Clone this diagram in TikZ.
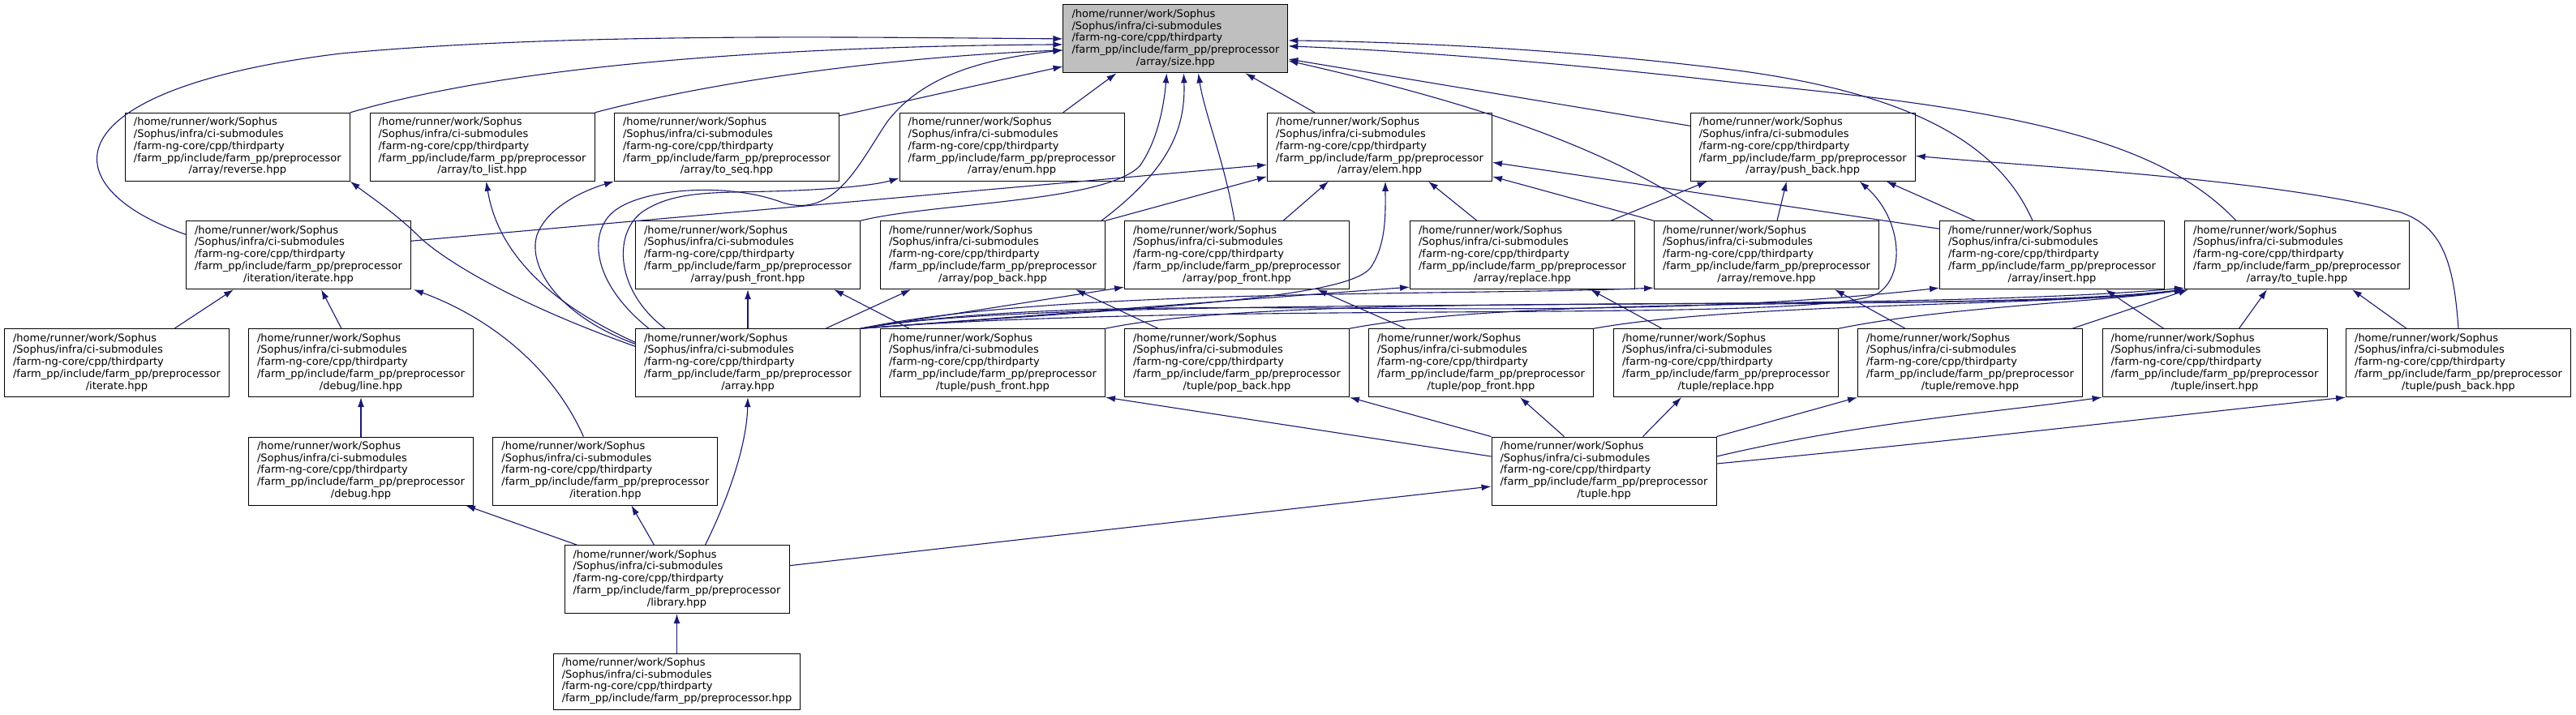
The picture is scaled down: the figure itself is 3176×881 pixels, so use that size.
\documentclass[tikz,border=0pt]{standalone}
\usepackage{fontspec}
\newfontfamily\dotfont{DejaVu Sans}
\usepackage{xcolor}
\usetikzlibrary{arrows.meta,calc}
\definecolor{edgeblue}{HTML}{191970}
\definecolor{rootgray}{HTML}{BFBFBF}
\newcommand{\fpath}[1]{\begin{tabular}{@{}l@{}}/home/runner/work/Sophus\\/Sophus/infra/ci-submodules\\/farm-ng-core/cpp/thirdparty\\/farm\_pp/include/farm\_pp/preprocessor\\\multicolumn{1}{@{}c@{}}{#1}\end{tabular}}

\begin{document}
\begin{tikzpicture}[x=1pt,y=-1pt,
  hdr/.style={draw=black,fill=white,line width=0.9pt,minimum width=277pt,minimum height=84pt,inner sep=0pt,font={\dotfont\fontsize{13}{14.8}\selectfont}},
  roothdr/.style={hdr,fill=rootgray},
  incl/.style={draw=edgeblue,line width=1.1pt,-{Latex[length=12pt,width=8pt]}}]
\fill[white] (0,0) rectangle (3176,881);
\useasboundingbox (0,0) rectangle (3176,881);

% files
\node[roothdr] (size) at (1449.4,47.9) {\fpath{/array/size.hpp}};
\node[hdr] (reverse) at (292.8,181.3) {\fpath{/array/reverse.hpp}};
\node[hdr] (tolist) at (594.5,181.3) {\fpath{/array/to\_list.hpp}};
\node[hdr] (toseq) at (896,181.3) {\fpath{/array/to\_seq.hpp}};
\node[hdr] (enum) at (1247.6,181.3) {\fpath{/array/enum.hpp}};
\node[hdr] (elem) at (1701,181.3) {\fpath{/array/elem.hpp}};
\node[hdr] (pushback) at (2222.7,181.3) {\fpath{/array/push\_back.hpp}};
\node[hdr] (iterate) at (368,314.7) {\fpath{/iteration/iterate.hpp}};
\node[hdr] (pushfront) at (922,314.7) {\fpath{/array/push\_front.hpp}};
\node[hdr] (popback) at (1224,314.7) {\fpath{/array/pop\_back.hpp}};
\node[hdr] (popfront) at (1525,314.7) {\fpath{/array/pop\_front.hpp}};
\node[hdr] (replace) at (1877,314.7) {\fpath{/array/replace.hpp}};
\node[hdr] (remove) at (2178,314.7) {\fpath{/array/remove.hpp}};
\node[hdr] (insert) at (2530,314.7) {\fpath{/array/insert.hpp}};
\node[hdr] (totuple) at (2832,314.7) {\fpath{/array/to\_tuple.hpp}};
\node[hdr] (iteratetop) at (144,447.7) {\fpath{/iterate.hpp}};
\node[hdr] (line) at (445,447.7) {\fpath{/debug/line.hpp}};
\node[hdr] (array) at (922,447.7) {\fpath{/array.hpp}};
\node[hdr] (tpushfront) at (1224,447.7) {\fpath{/tuple/push\_front.hpp}};
\node[hdr] (tpopback) at (1525,447.7) {\fpath{/tuple/pop\_back.hpp}};
\node[hdr] (tpopfront) at (1826,447.7) {\fpath{/tuple/pop\_front.hpp}};
\node[hdr] (treplace) at (2128,447.7) {\fpath{/tuple/replace.hpp}};
\node[hdr] (tremove) at (2429,447.7) {\fpath{/tuple/remove.hpp}};
\node[hdr] (tinsert) at (2730.5,447.7) {\fpath{/tuple/insert.hpp}};
\node[hdr] (tpushback) at (3031,447.7) {\fpath{/tuple/push\_back.hpp}};
\node[hdr] (debug) at (445,581) {\fpath{/debug.hpp}};
\node[hdr] (iteration) at (746.4,581) {\fpath{/iteration.hpp}};
\node[hdr] (tuple) at (1977.5,581) {\fpath{/tuple.hpp}};
\node[hdr] (library) at (834.5,714.7) {\fpath{/library.hpp}};
\node[hdr,minimum width=304pt,minimum height=69pt] (prep) at (834.5,840.5) {\begin{tabular}{@{}l@{}}/home/runner/work/Sophus\\/Sophus/infra/ci-submodules\\/farm-ng-core/cpp/thirdparty\\/farm\_pp/include/farm\_pp/preprocessor.hpp\end{tabular}};

% into size.hpp
\draw[incl] ($(iterate.north west)+(0,17)$) .. controls (60,230) and (60,110) .. (420,66) .. controls (700,40) and (1050,46) .. (size.west);
\draw[incl] (reverse.north east) .. controls (650,75) and (1000,57) .. ($(size.west)+(0,7)$);
\draw[incl] (tolist.north east) .. controls (880,100) and (1100,70) .. ($(size.west)+(0,14)$);
\draw[incl] ($(toseq.north east)+(0,4)$) -- ($(size.west)+(0,34)$);
\draw[incl] ($(array.north)+(-122,0)$) .. controls (725,345) and (725,280) .. (762,257) .. controls (800,232) and (900,225) .. (965,250) .. controls (1030,270) and (1060,200) .. (1094,150) .. controls (1140,90) and (1220,72) .. ($(size.west)+(0,14)$);
\draw[incl] ($(enum.north)+(63,0)$) -- ($(size.south)+(-73,0)$);
\draw[incl] (pushfront.north east) .. controls (1150,250) and (1360,250) .. (1405,205) .. controls (1430,170) and (1436,120) .. ($(size.south)+(-11,0)$);
\draw[incl] ($(popback.north east)+(-5,0)$) .. controls (1440,210) and (1462,160) .. ($(size.south)+(10,0)$);
\draw[incl] ($(popfront.north)+(-3,0)$) .. controls (1510,200) and (1485,140) .. ($(size.south)+(28,0)$);
\draw[incl] ($(elem.north)+(-80,0)$) -- ($(size.south)+(86,0)$);
\draw[incl] ($(insert.north)+(-24,0)$) .. controls (2470,190) and (2380,120) .. (2150,88) .. controls (1950,62) and (1750,52) .. ($(size.east)+(0,2)$);
\draw[incl] ($(totuple.north)+(-75,0)$) .. controls (2660,170) and (2480,135) .. (2150,103) .. controls (1950,80) and (1750,63) .. ($(size.east)+(0,9)$);
\draw[incl] ($(pushback.west)+(0,-26)$) -- ($(size.east)+(0,25)$);
\draw[incl] ($(remove.north west)+(73,0)$) .. controls (1990,185) and (1830,130) .. ($(size.east)+(0,27)$);

% into elem.hpp
\draw[incl] ($(iterate.north east)+(0,25)$) -- ($(elem.west)+(0,22)$);
\draw[incl] (popback.north east) -- ($(elem.south west)+(0,-6)$);
\draw[incl] ($(popfront.north)+(57,0)$) -- ($(elem.south)+(-63,0)$);
\draw[incl] (array.north east) .. controls (1400,380) and (1660,370) .. (1690,330) .. controls (1710,300) and (1708,260) .. ($(elem.south)+(7,0)$);
\draw[incl] ($(replace.north)+(-56,0)$) -- ($(elem.south)+(60,0)$);
\draw[incl] (remove.north west) -- ($(elem.south east)+(0,-6)$);
\draw[incl] ($(insert.north west)+(0,10)$) -- ($(elem.east)+(0,19)$);

% into push_back.hpp
\draw[incl] ($(replace.north east)+(-30,0)$) -- ($(pushback.south west)+(21,0)$);
\draw[incl] ($(remove.north)+(13,0)$) -- ($(pushback.south)+(-20,0)$);
\draw[incl] ($(insert.north west)+(44,0)$) -- ($(pushback.south east)+(-36,0)$);
\draw[incl] (array.north east) .. controls (1500,370) and (2250,400) .. (2315,362) .. controls (2350,340) and (2345,270) .. ($(pushback.south)+(70,0)$);
\draw[incl] (tpushback.north) .. controls (3025,320) and (3010,280) .. (2960,262) .. controls (2800,220) and (2500,205) .. ($(pushback.east)+(0,11)$);

% from array.hpp
\draw[incl] ($(array.north west)+(0,22)$) .. controls (650,380) and (560,330) .. (520,295) .. controls (490,265) and (460,245) .. (reverse.south east);
\draw[incl] ($(array.north west)+(0,17)$) .. controls (690,380) and (615,320) .. ($(tolist.south)+(5,0)$);
\draw[incl] ($(array.north west)+(0,19)$) .. controls (690,390) and (650,330) .. (662,290) .. controls (675,255) and (720,235) .. (toseq.south west);
\draw[incl] ($(array.north)+(-102,0)$) .. controls (760,360) and (755,290) .. (791,262) .. controls (830,235) and (880,238) .. (950,236) .. controls (1030,234) and (1080,228) .. ($(enum.south west)+(0,-4)$);
\draw[incl] (array) -- (pushfront);
\draw[incl] ($(array.north east)+(-43,0)$) -- ($(popback.south west)+(38,0)$);
\draw[incl] (array.north east) -- ($(popfront.south west)+(0,-3)$);
\draw[incl] (array.north east) -- ($(replace.south west)+(0,-3)$);
\draw[incl] (array.north east) .. controls (1300,355) and (1800,365) .. ($(remove.south west)+(0,-2)$);
\draw[incl] (array.north east) .. controls (1400,350) and (1900,410) .. ($(insert.south west)+(0,-2)$);
\draw[incl] (array.north east) .. controls (1300,360) and (2300,390) .. ($(totuple.south west)+(0,-2)$);

% tuple/* upwards
\draw[incl] ($(tpushfront.north)+(-103,0)$) -- ($(pushfront.south)+(106,0)$);
\draw[incl] ($(tpopback.north)+(-97,0)$) -- ($(popback.south)+(102,0)$);
\draw[incl] ($(tpopfront.north)+(-93,0)$) -- ($(popfront.south)+(99,0)$);
\draw[incl] ($(treplace.north)+(-79,0)$) -- ($(replace.south)+(84,0)$);
\draw[incl] ($(tremove.north)+(-80,0)$) -- ($(remove.south)+(84,0)$);
\draw[incl] ($(tinsert.north)+(-63,0)$) -- ($(insert.south)+(66,0)$);
\draw[incl] ($(tinsert.north)+(30,0)$) -- ($(totuple.south)+(-37,0)$);
\draw[incl] ($(tpushback.north)+(-64,0)$) -- ($(totuple.south)+(68,0)$);
\draw[incl] ($(tremove.north)+(126,0)$) -- ($(totuple.south west)+(5,0)$);
\draw[incl] (treplace.north east) .. controls (2400,378) and (2600,372) .. (totuple.south west);
\draw[incl] (tpopfront.north east) .. controls (2150,372) and (2550,378) .. (totuple.south west);
\draw[incl] (tpopback.north east) .. controls (1900,360) and (2500,385) .. (totuple.south west);
\draw[incl] (tpushfront.north east) .. controls (1600,355) and (2400,390) .. (totuple.south west);

% iteration side
\draw[incl] ($(iteratetop.north)+(71,0)$) -- ($(iterate.south)+(-80,0)$);
\draw[incl] ($(line.north)+(-24,0)$) -- ($(iterate.south)+(28,0)$);
\draw[incl] ($(iteration.north)+(-27,0)$) .. controls (680,450) and (600,390) .. ($(iterate.south east)+(3,0)$);
\draw[incl] (debug) -- (line);

% library.hpp and tuple.hpp
\draw[incl] ($(library.north west)+(16,0)$) -- ($(debug.south east)+(-10,0)$);
\draw[incl] ($(library.north)+(-28,0)$) -- ($(iteration.south)+(32,0)$);
\draw[incl] ($(library.north)+(35,0)$) .. controls (905,600) and (921,540) .. (array.south);
\draw[incl] ($(library.east)+(0,-17)$) -- ($(tuple.west)+(0,19)$);
\draw[incl] (prep) -- (library);
\draw[incl] ($(tuple.west)+(0,-18)$) -- (tpushfront.south east);
\draw[incl] (tuple.north west) -- (tpopback.south east);
\draw[incl] ($(tuple.north west)+(90,0)$) -- ($(tpopfront.south)+(48,0)$);
\draw[incl] ($(tuple.north)+(48,0)$) -- ($(treplace.south)+(-55,0)$);
\draw[incl] (tuple.north east) -- (tremove.south west);
\draw[incl] ($(tuple.east)+(0,-18)$) .. controls (2300,520) and (2450,510) .. (tinsert.south west);
\draw[incl] ($(tuple.east)+(0,-9)$) .. controls (2450,540) and (2700,510) .. (tpushback.south west);
\end{tikzpicture}
\end{document}
